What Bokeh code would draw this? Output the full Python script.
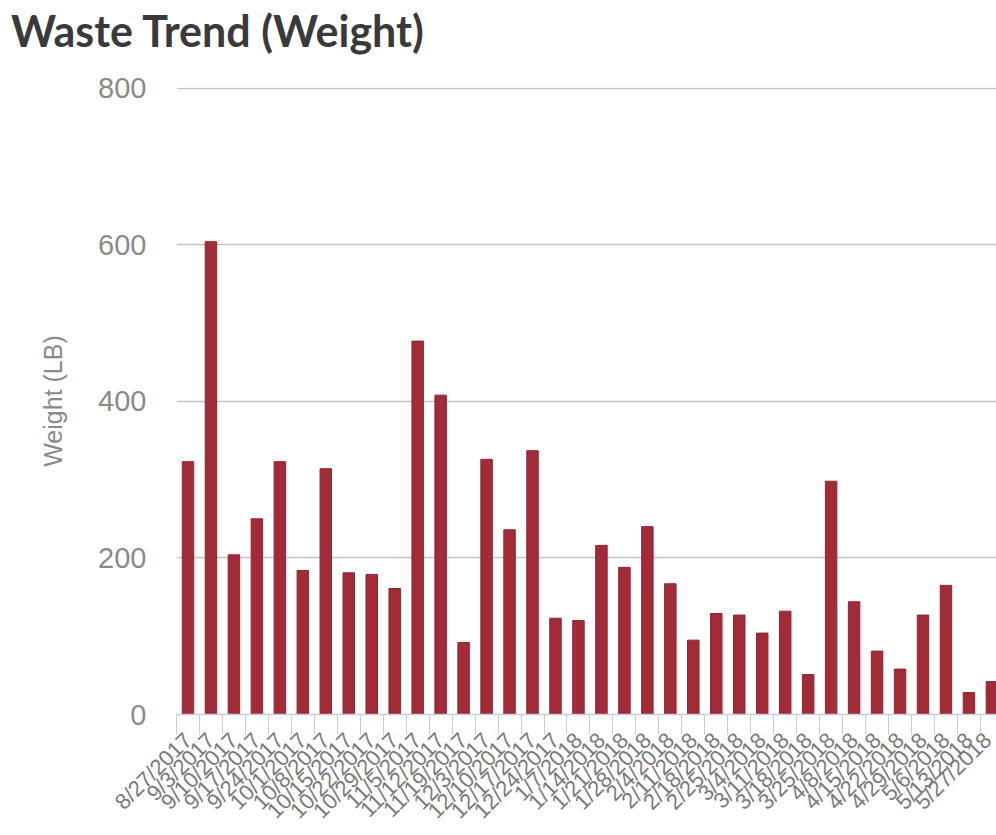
from bokeh.plotting import figure
from bokeh.models import ColumnDataSource, FixedTicker, Range1d, Div
from bokeh.layouts import column
from bokeh.embed import file_html
from bokeh.resources import INLINE

title_text = "Waste Trend (Weight)"
dates = ["8/27/2017", "9/3/2017", "9/10/2017", "9/17/2017", "9/24/2017", "10/1/2017",
         "10/8/2017", "10/15/2017", "10/22/2017", "10/29/2017", "11/5/2017", "11/12/2017",
         "11/19/2017", "12/3/2017", "12/10/2017", "12/17/2017", "12/24/2017",
         "1/7/2018", "1/14/2018", "1/21/2018", "1/28/2018", "2/4/2018", "2/11/2018",
         "2/18/2018", "2/25/2018", "3/4/2018", "3/11/2018", "3/18/2018", "3/25/2018",
         "4/8/2018", "4/15/2018", "4/22/2018", "4/29/2018", "5/6/2018", "5/13/2018",
         "5/27/2018"]
weights = [323, 604, 204, 250, 323, 184, 314, 181, 179, 161, 477, 408, 92, 326, 236, 337,
           123, 120, 216, 188, 240, 167, 95, 129, 127, 104, 132, 51, 298, 144, 81, 58,
           127, 165, 28, 42]
y_ticks = [0, 200, 400, 600, 800]

idx = list(range(len(dates)))
src = ColumnDataSource(dict(x=idx, w=weights, d=dates))

head = Div(text=title_text, width=996, height=60, margin=(0, 0, 0, 0),
           styles={"font-family": "Lato", "font-weight": "bold", "font-size": "43px",
                   "color": "#3a3a3a", "line-height": "1", "padding-left": "11px",
                   "padding-top": "9px", "box-sizing": "border-box"})

p = figure(width=996, height=775, output_backend="svg", toolbar_location=None,
           x_range=Range1d(-0.5, len(dates) - 0.8), y_range=Range1d(0, 801),
           min_border_left=176, min_border_right=0, min_border_top=27, min_border_bottom=100,
           margin=(0, 0, 0, 0))
p.outline_line_color = None
p.background_fill_color = "white"

p.vbar(x="x", top="w", width=0.5, source=src, fill_color="#a22b38",
       line_color="#912633", line_width=1)

# y axis
p.yaxis.ticker = FixedTicker(ticks=y_ticks)
p.yaxis.axis_line_color = None
p.yaxis.major_tick_line_color = None
p.yaxis.major_tick_out = 0
p.yaxis.major_tick_in = 0
p.yaxis.minor_tick_line_color = None
p.yaxis.minor_tick_out = 0
p.yaxis.major_label_text_font = "Liberation Sans"
p.yaxis.major_label_text_font_size = "29px"
p.yaxis.major_label_text_color = "#8a8a8a"
p.yaxis.major_label_standoff = 30
p.yaxis.axis_label = "Weight (LB)"
p.yaxis.axis_label_text_font = "Liberation Sans"
p.yaxis.axis_label_text_font_size = "25px"
p.yaxis.axis_label_text_font_style = "normal"
p.yaxis.axis_label_text_color = "#8a8a8a"
p.yaxis.axis_label_standoff = 28

p.ygrid.ticker = FixedTicker(ticks=y_ticks[1:])
p.ygrid.grid_line_color = "#c4c4c4"
p.ygrid.grid_line_width = 1.5
p.xgrid.grid_line_color = None

# x axis: labels at centres, tick marks at category boundaries
p.xaxis.ticker = FixedTicker(ticks=idx, minor_ticks=[i - 0.5 for i in range(len(dates) + 1)])
p.xaxis.major_label_overrides = {i: d for i, d in enumerate(dates)}
p.xaxis.major_label_orientation = 0.7854
p.xaxis.major_tick_line_color = None
p.xaxis.major_tick_out = 0
p.xaxis.major_tick_in = 0
p.xaxis.minor_tick_line_color = "#c3cfdc"
p.xaxis.minor_tick_out = 20
p.xaxis.minor_tick_in = 0
p.xaxis.axis_line_color = "#c3cfdc"
p.xaxis.axis_line_width = 1.5
p.xaxis.major_label_text_font = "Liberation Sans"
p.xaxis.major_label_text_font_size = "22px"
p.xaxis.major_label_text_color = "#7a7a7a"
p.xaxis.major_label_standoff = 2

layout = column(head, p, spacing=0, margin=(0, 0, 0, 0))
open("out.html", "w").write(file_html(layout, INLINE))
